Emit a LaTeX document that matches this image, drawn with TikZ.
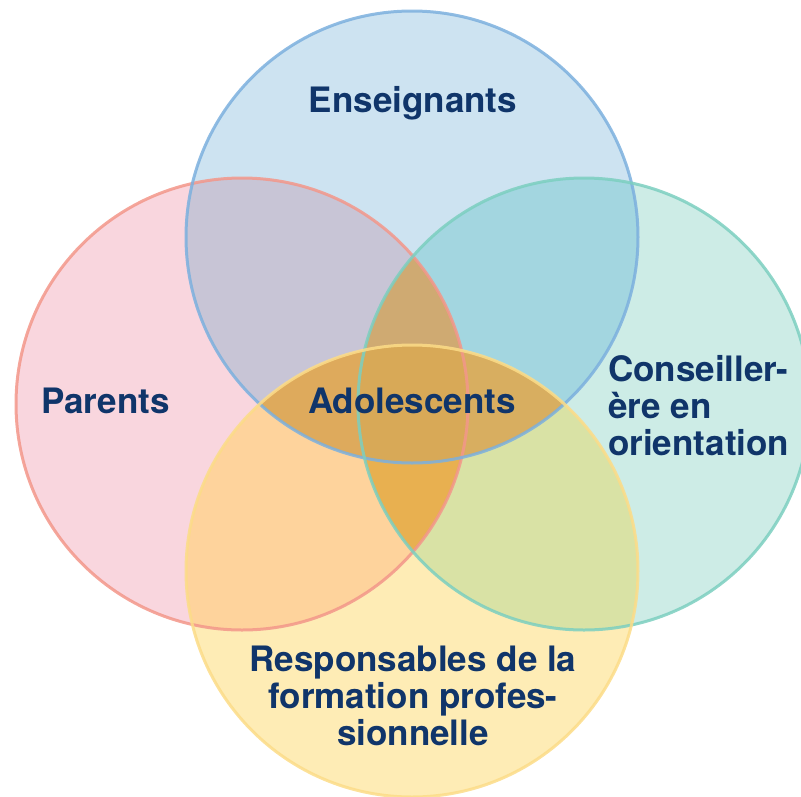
\documentclass[tikz,border=0pt]{standalone}
\usepackage{fontspec}
\setmainfont{TeX Gyre Heros}
\definecolor{txtblue}{HTML}{10356A}
% single sets
\definecolor{topfill}{HTML}{CDE3F1}
\definecolor{topline}{HTML}{7CB0DE}
\definecolor{leftfill}{HTML}{F9D6DE}
\definecolor{leftline}{HTML}{F3978A}
\definecolor{rightfill}{HTML}{CDECE6}
\definecolor{rightline}{HTML}{7CCFC0}
\definecolor{botfill}{HTML}{FEECB5}
\definecolor{botline}{HTML}{FCDC88}
% overlaps
\definecolor{lt}{HTML}{C8C5D6}
\definecolor{tr}{HTML}{A3D6E0}
\definecolor{lb}{HTML}{FED39C}
\definecolor{rb}{HTML}{D9E2A5}
\definecolor{ltr}{HTML}{CFAA72}
\definecolor{lrb}{HTML}{E8B050}
\definecolor{ltb}{HTML}{DEAA5C}
\definecolor{trb}{HTML}{D8AE60}
\definecolor{all}{HTML}{D8A957}
\newcommand{\rad}{226}
\tikzset{
  ring/.style={line width=3pt, draw opacity=.85},
  lab/.style={text=txtblue, font=\fontsize{35}{37}\selectfont\bfseries, inner sep=0pt}
}
\begin{document}
\begin{tikzpicture}[x=1pt,y=-1pt]
\useasboundingbox (0,0) rectangle (801,796);
\coordinate (parents) at (242,404);
\coordinate (enseignants) at (412,237);
\coordinate (conseil) at (584,404);
\coordinate (forma) at (412,571);
% plain discs
\fill[leftfill] (parents) circle[radius=\rad];
\fill[topfill] (enseignants) circle[radius=\rad];
\fill[rightfill] (conseil) circle[radius=\rad];
\fill[botfill] (forma) circle[radius=\rad];
% two sets
\begin{scope}
\clip (parents) circle[radius=\rad];
\fill[lt] (enseignants) circle[radius=\rad];
\fill[lb] (forma) circle[radius=\rad];
\end{scope}
\begin{scope}
\clip (conseil) circle[radius=\rad];
\fill[tr] (enseignants) circle[radius=\rad];
\fill[rb] (forma) circle[radius=\rad];
\end{scope}
% three sets
\begin{scope}
\clip (parents) circle[radius=\rad];
\clip (enseignants) circle[radius=\rad];
\fill[ltr] (conseil) circle[radius=\rad];
\fill[ltb] (forma) circle[radius=\rad];
\end{scope}
\begin{scope}
\clip (conseil) circle[radius=\rad];
\clip (forma) circle[radius=\rad];
\fill[lrb] (parents) circle[radius=\rad];
\fill[trb] (enseignants) circle[radius=\rad];
\end{scope}
% four sets
\begin{scope}
\clip (parents) circle[radius=\rad];
\clip (enseignants) circle[radius=\rad];
\clip (conseil) circle[radius=\rad];
\fill[all] (forma) circle[radius=\rad];
\end{scope}
% outlines
\draw[ring, leftline] (parents) circle[radius=\rad];
\draw[ring, topline] (enseignants) circle[radius=\rad];
\draw[ring, rightline] (conseil) circle[radius=\rad];
\draw[ring, botline] (forma) circle[radius=\rad];
% labels
\node[lab] (tEns) at (413,103) {Enseignants};
\node[lab, anchor=base west] (tPar) at (41,413) {Parents};
\node[lab, anchor=base] (tAdo) at (412,413) {Adolescents};
\node[lab, anchor=base west, align=left] (tCons) at (608,455) {Conseiller-\\ère en\\orientation};
\node[lab, anchor=base, align=center] (tForm) at (413,745) {Responsables de la\\formation profes-\\sionnelle};
\end{tikzpicture}
\end{document}
